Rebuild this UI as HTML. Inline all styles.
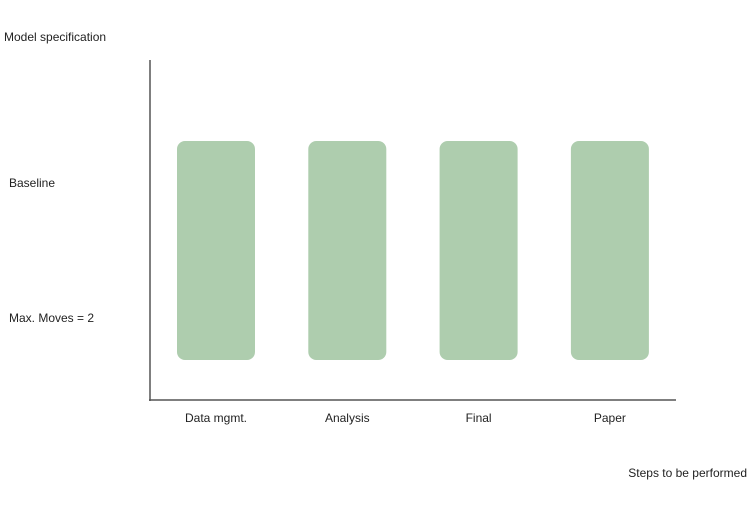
<!DOCTYPE html>
<html><head><meta charset="utf-8"><style>
body{margin:0;background:#fff;width:750px;height:500px;overflow:hidden}
text{font-family:"Liberation Sans",sans-serif;font-size:12px;fill:#222}
</style></head><body>
<svg id="chart" width="750" height="500" xmlns="http://www.w3.org/2000/svg">
<text x="4" y="41">Model specification</text>
<text x="747" y="477" text-anchor="end">Steps to be performed</text>
<line x1="150" y1="60" x2="150" y2="401" stroke="#555" stroke-width="1.5"/>
<line x1="149" y1="400" x2="676" y2="400" stroke="#555" stroke-width="1.5"/>
<g id="bars"></g>
</svg>
<script>
const categories = ["Data mgmt.", "Analysis", "Final", "Paper"];
const yCategories = ["Max.  Moves = 2", "Baseline"];
const barStart = [0, 0, 0, 0];
const barEnd = [1, 1, 1, 1];
const svg = document.getElementById('chart');
const g = document.getElementById('bars');
const NS = 'http://www.w3.org/2000/svg';
function xScale(i){ return 216 + i * 131.3; }
function yScale(v){ return 318 - v * 135; }
const pad = 42, halfW = 39;
yCategories.forEach((c, i) => {
  const t = document.createElementNS(NS, 'text');
  
  
  t.setAttribute('x', 9); t.setAttribute('y', yScale(i) + 4);
  t.textContent = c; svg.appendChild(t);
});
categories.forEach((c, i) => {
  const cx = xScale(i);
  const y1 = yScale(barEnd[i]) - pad, y2 = yScale(barStart[i]) + pad;
  const r = document.createElementNS(NS, 'rect');
  
  
  r.setAttribute('x', cx - halfW); r.setAttribute('y', y1);
  r.setAttribute('width', halfW * 2); r.setAttribute('height', y2 - y1);
  r.setAttribute('rx', 8); r.setAttribute('fill', '#aecdae');
  g.appendChild(r);
  const t = document.createElementNS(NS, 'text');
  
  
  t.setAttribute('x', cx); t.setAttribute('y', 422);
  t.setAttribute('text-anchor', 'middle');
  t.textContent = c; svg.appendChild(t);
});
</script>
</body></html>
